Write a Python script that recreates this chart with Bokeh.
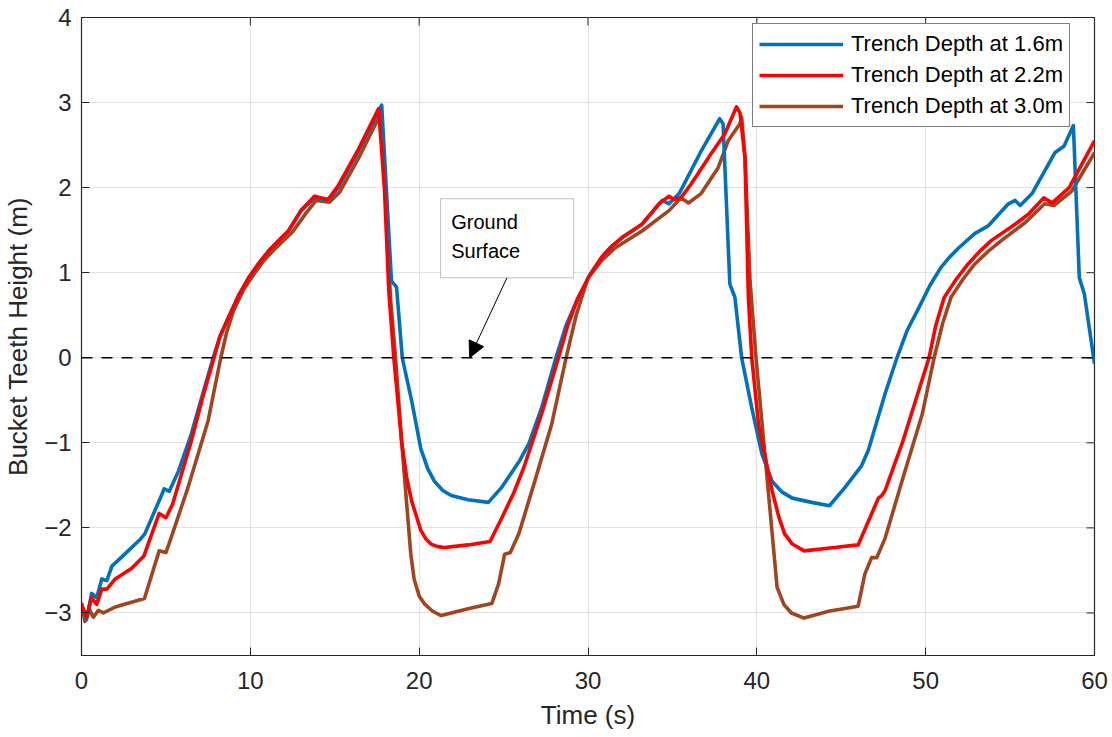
from bokeh.plotting import figure
from bokeh.models import (Range1d, Legend, LegendItem, Span, BoxAnnotation, Label,
                          Arrow, NormalHead, FixedTicker)
from bokeh.embed import file_html
from bokeh.resources import INLINE

# Bucket teeth height over time for three trench depths
t_16 = [0, 0.3, 0.6, 0.9, 1.2, 1.5, 1.8, 2.5, 3.5, 3.75, 4.6, 4.9, 5.2, 5.75, 6.5, 7.0,
        7.8, 8.2, 8.7, 9.3, 9.9, 10.5, 11.1, 11.7, 12.25, 13.0, 13.8, 14.6, 15.2, 16.4,
        17.78, 18.36, 18.66, 19.0, 19.55, 20.1, 20.5, 20.9, 21.4, 21.9, 22.9, 24.1, 24.9,
        25.95, 26.5, 27.25, 28.1, 28.7, 29.4, 30.1, 30.8, 31.4, 32.0, 33.2, 34.4, 34.8,
        35.4, 36.7, 37.8, 38.0, 38.4, 38.7, 39.1, 39.7, 40.3, 40.9, 41.5, 42.1, 43.25,
        44.3, 45.2, 46.2, 46.6, 47.6, 48.3, 48.9, 49.6, 50.25, 50.9, 51.4, 51.95, 52.9,
        53.7, 54.9, 55.3, 55.6, 56.3, 57.65, 58.2, 58.75, 59.1, 59.4, 60.0]
h_16 = [-2.9, -3.08, -2.77, -2.82, -2.6, -2.62, -2.45, -2.32, -2.13, -2.07, -1.68, -1.54,
        -1.57, -1.33, -0.9, -0.55, 0.0, 0.25, 0.47, 0.73, 0.94, 1.11, 1.26, 1.38, 1.49,
        1.73, 1.88, 1.85, 2.0, 2.43, 2.97, 0.9, 0.83, 0.0, -0.5, -1.07, -1.3, -1.45,
        -1.56, -1.62, -1.67, -1.70, -1.52, -1.21, -1.01, -0.59, 0.0, 0.38, 0.7, 0.97,
        1.18, 1.31, 1.41, 1.57, 1.85, 1.81, 1.93, 2.43, 2.81, 2.75, 0.87, 0.71, 0.0,
        -0.59, -1.13, -1.45, -1.58, -1.65, -1.70, -1.74, -1.53, -1.27, -1.09, -0.42, 0.0,
        0.32, 0.59, 0.85, 1.06, 1.18, 1.29, 1.46, 1.55, 1.81, 1.85, 1.79, 1.93, 2.41,
        2.49, 2.73, 0.94, 0.75, -0.07]

t_22 = [0, 0.3, 0.6, 0.9, 1.2, 1.5, 2.0, 3.0, 3.7, 4.6, 5.0, 5.4, 6.5, 7.2, 7.85, 8.2,
        8.7, 9.3, 9.9, 10.5, 11.1, 11.7, 12.25, 13.0, 13.8, 14.6, 15.2, 16.4, 17.6, 17.95,
        18.2, 18.5, 18.96, 19.25, 19.55, 20.1, 20.4, 20.7, 21.1, 21.5, 22.9, 24.2, 24.9,
        25.6, 26.2, 27.25, 28.25, 28.8, 29.4, 30.1, 30.8, 31.4, 32.0, 33.2, 34.2, 34.8,
        35.1, 35.5, 36.1, 37.3, 38.1, 38.8, 39.0, 39.3, 39.5, 39.7, 40.1, 40.9, 41.3,
        41.65, 42.1, 42.8, 44.6, 46.0, 47.2, 47.4, 47.6, 48.6, 50.2, 50.6, 51.1, 51.8,
        52.5, 53.2, 53.9, 55.3, 56.1, 57.0, 57.5, 58.5, 60.0]
h_22 = [-2.9, -3.05, -2.82, -2.9, -2.72, -2.72, -2.6, -2.47, -2.33, -1.83, -1.88, -1.72,
        -0.98, -0.45, 0.0, 0.25, 0.47, 0.73, 0.94, 1.11, 1.26, 1.38, 1.49, 1.73, 1.9,
        1.86, 2.02, 2.45, 2.93, 1.96, 0.79, 0.0, -0.98, -1.4, -1.68, -2.03, -2.13, -2.19,
        -2.22, -2.23, -2.2, -2.16, -1.88, -1.59, -1.29, -0.66, 0.0, 0.38, 0.7, 0.97, 1.18,
        1.31, 1.41, 1.57, 1.81, 1.9, 1.86, 1.88, 2.04, 2.4, 2.63, 2.95, 2.88, 2.35, 0.71,
        0.0, -0.78, -1.56, -1.87, -2.07, -2.19, -2.27, -2.23, -2.2, -1.65, -1.62, -1.56,
        -1.01, 0.0, 0.38, 0.71, 0.92, 1.1, 1.25, 1.38, 1.57, 1.69, 1.88, 1.82, 2.0, 2.55]

t_30 = [0, 0.2, 0.45, 0.7, 1.0, 1.3, 2.0, 2.5, 3.73, 4.6, 5.0, 5.3, 6.3, 7.5, 8.25, 8.6,
        9.0, 9.6, 10.2, 10.8, 11.4, 12.5, 13.3, 13.9, 14.7, 15.3, 16.5, 17.75, 18.0,
        18.3, 18.6, 18.96, 19.5, 19.7, 20.0, 20.3, 20.8, 21.3, 22.9, 24.3, 24.7, 25.06,
        25.4, 25.9, 26.85, 27.85, 28.7, 29.3, 30.0, 30.8, 31.6, 33.2, 34.8, 35.5, 35.95,
        36.7, 37.7, 38.3, 39.0, 39.1, 39.3, 39.6, 39.95, 40.5, 41.2, 41.6, 42.05, 42.8,
        44.25, 46.0, 46.4, 46.8, 47.1, 47.6, 48.6, 49.8, 50.5, 51.0, 51.5, 52.2, 52.9,
        53.7, 54.5, 55.9, 57.05, 57.6, 58.65, 60.0]
h_30 = [-2.88, -3.1, -2.95, -3.05, -2.97, -3.0, -2.93, -2.9, -2.83, -2.27, -2.29, -2.12,
        -1.53, -0.74, 0.0, 0.3, 0.55, 0.8, 0.98, 1.14, 1.27, 1.48, 1.7, 1.85, 1.83, 1.95,
        2.38, 2.88, 2.0, 0.7, 0.0, -0.98, -2.3, -2.6, -2.8, -2.89, -2.98, -3.03, -2.95,
        -2.89, -2.66, -2.31, -2.29, -2.07, -1.45, -0.78, 0.0, 0.5, 0.94, 1.14, 1.29,
        1.49, 1.73, 1.88, 1.82, 1.93, 2.23, 2.55, 2.75, 2.83, 2.35, 0.9, 0.0, -1.18,
        -2.7, -2.9, -3.0, -3.06, -2.98, -2.92, -2.54, -2.35, -2.35, -2.12, -1.45, -0.66,
        0.0, 0.4, 0.71, 0.92, 1.1, 1.25, 1.38, 1.59, 1.81, 1.79, 1.96, 2.41]

labels = ["Trench Depth at 1.6m", "Trench Depth at 2.2m", "Trench Depth at 3.0m"]
colors = ["#0072BD", "#FF0000", "#A0461E"]

x_ticks = [0, 10, 20, 30, 40, 50, 60]
y_ticks = [-3, -2, -1, 0, 1, 2, 3, 4]
x_lo, x_hi = 0, 60
y_lo, y_hi = -3.5, 4

FONT = "Liberation Sans"
TXT = "#262626"
W, H = 1112, 737
BL, BR, BT, BB = 80, 18, 17, 82

p = figure(width=W, height=H, output_backend="svg", toolbar_location=None,
           x_range=Range1d(x_lo, x_hi), y_range=Range1d(y_lo, y_hi),
           min_border_left=BL, min_border_right=BR, min_border_top=BT,
           min_border_bottom=BB, background_fill_color="white",
           border_fill_color="white")
p.outline_line_color = "#262626"
p.outline_line_width = 1.2

for ax, ticks in ((p.xaxis[0], x_ticks), (p.yaxis[0], y_ticks)):
    ax.ticker = FixedTicker(ticks=ticks)
    ax.major_tick_in = 8
    ax.major_tick_out = 0
    ax.minor_tick_line_color = None
    ax.axis_line_color = "#262626"
    ax.major_tick_line_color = "#262626"
    ax.major_label_text_font = FONT
    ax.major_label_text_font_size = "24px"
    ax.major_label_text_color = TXT
    ax.axis_label_text_font = FONT
    ax.axis_label_text_font_size = "26px"
    ax.axis_label_text_font_style = "normal"
    ax.axis_label_text_color = TXT

p.xaxis.axis_label = "Time (s)"
p.yaxis.axis_label = "Bucket Teeth Height (m)"
p.xaxis.major_label_standoff = 16
p.yaxis.major_label_standoff = 10
p.xaxis.axis_label_standoff = 8
p.yaxis.axis_label_standoff = 8

p.xgrid.ticker = FixedTicker(ticks=x_ticks)
p.ygrid.ticker = FixedTicker(ticks=y_ticks)
p.grid.grid_line_color = "#E3E3E3"
p.grid.grid_line_width = 1

# mirrored inward ticks along the top and right edges (8 px long)
tick_dy = 8 * (y_hi - y_lo) / (H - BT - BB)
tick_dx = 8 * (x_hi - x_lo) / (W - BL - BR)
p.segment(x0=x_ticks, y0=[y_hi] * len(x_ticks), x1=x_ticks,
          y1=[y_hi - tick_dy] * len(x_ticks), line_color="#262626", line_width=1)
p.segment(x0=[x_hi] * len(y_ticks), y0=y_ticks, x1=[x_hi - tick_dx] * len(y_ticks),
          y1=y_ticks, line_color="#262626", line_width=1)

# ground surface
p.add_layout(Span(location=0, dimension="width", line_color="black",
                  line_dash="11 9", line_width=1.6))

r30 = p.line(t_30, h_30, line_color=colors[2], line_width=3.6, line_join="round")
r16 = p.line(t_16, h_16, line_color=colors[0], line_width=3.6, line_join="round")
r22 = p.line(t_22, h_22, line_color=colors[1], line_width=3.6, line_join="round")

legend = Legend(items=[LegendItem(label=labels[0], renderers=[r16]),
                       LegendItem(label=labels[1], renderers=[r22]),
                       LegendItem(label=labels[2], renderers=[r30])],
                location=(671, 528), margin=0, padding=6, spacing=3,
                glyph_width=84, glyph_height=28, label_height=28,
                label_standoff=8, label_text_font=FONT,
                label_text_font_size="22px", label_text_color="black",
                border_line_color="black", border_line_width=1,
                background_fill_color="white", background_fill_alpha=1)
p.add_layout(legend, "center")

# annotation box with arrow pointing at the ground line
p.add_layout(BoxAnnotation(left=21.27, right=29.15, bottom=0.94, top=1.87,
                           fill_color="white", fill_alpha=1,
                           line_color="#333333", line_width=1))
p.add_layout(Label(x=21.9, y=1.60, text="Ground", text_font=FONT,
                   text_font_size="20px", text_color="black",
                   text_baseline="middle"))
p.add_layout(Label(x=21.9, y=1.25, text="Surface", text_font=FONT,
                   text_font_size="20px", text_color="black",
                   text_baseline="middle"))
p.add_layout(Arrow(x_start=25.2, y_start=0.94, x_end=22.99, y_end=0.0,
                   line_color="black", line_width=1,
                   end=NormalHead(size=16, fill_color="black", line_color="black")))

open("out.html", "w").write(file_html(p, INLINE))
